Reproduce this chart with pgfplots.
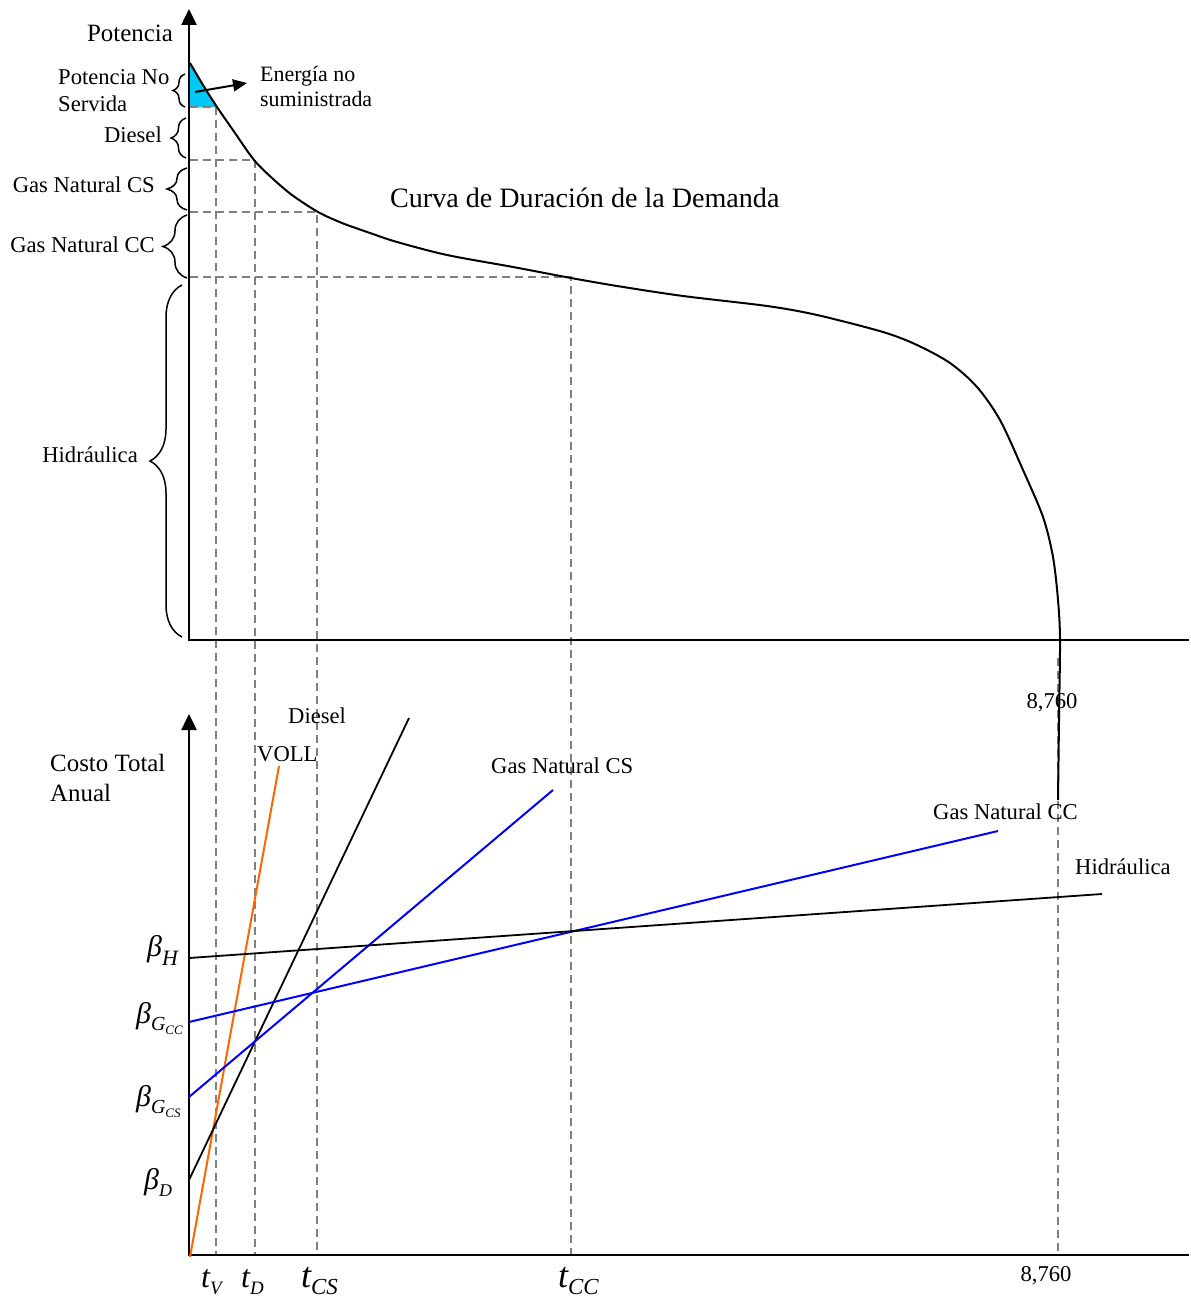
\documentclass[border=0pt]{standalone}
\usepackage{pgfplots}
\pgfplotsset{compat=1.18}
\usepackage{fontspec}
\setmainfont{Liberation Serif}
\usetikzlibrary{decorations.pathreplacing,arrows.meta}
\definecolor{voll}{RGB}{255,102,0}
\definecolor{ens}{RGB}{0,200,245}
\definecolor{guia}{RGB}{128,128,128}
\newcommand{\fs}[1]{\fontsize{#1}{#1}\selectfont}
\newcommand{\bsub}[3]{{\fs{30}\itshape β}\raisebox{-#3bp}{\fs{#2}\itshape #1}}
\newcommand{\bsubb}[2]{{\fs{30}\itshape β}\raisebox{-7bp}{\fs{20}\itshape #1\raisebox{-4bp}{\fs{13}\itshape #2}}}
\newcommand{\tsub}[3]{{\fs{#2}\itshape t}\raisebox{-7bp}{\fs{#3}\itshape #1}}
\begin{document}
\begin{tikzpicture}[
  guide/.style={guia, line width=1.5bp, dash pattern=on 8bp off 5bp},
  brc/.style={line width=1.5bp, decorate, decoration={brace, amplitude=#1}},
  lbl/.style={inner sep=0pt, font=\fs{22.7}},
]
\begin{axis}[
  width=1189bp, height=1301bp, scale only axis,
  xmin=0, xmax=1189, ymin=0, ymax=1301, y dir=reverse,
  hide axis, clip=false,
]
\addplot[draw=none] coordinates {(0,0) (1189,1301)};

% energia no suministrada
\addplot[fill=ens, draw=none] coordinates {(190,63) (203,85) (217,107) (190,107)} -- cycle;

% guias
\addplot[guide] coordinates {(190,107) (216,107) (216,1255)};
\addplot[guide] coordinates {(190,160) (255,160) (255,1255)};
\addplot[guide] coordinates {(190,212) (317,212) (317,1255)};
\addplot[guide] coordinates {(190,277) (571,277) (571,1255)};
\addplot[guide] coordinates {(1058,658) (1058,1255)};

% curva de duracion
\addplot[line width=2bp, smooth, tension=0.5] coordinates {
  (190,63) (203,85) (217,107) (235,133) (254,160) (272,178) (292,195)
  (318,212) (342,223) (370,233) (397,242) (447,255) (513,267) (571,278)
  (617,286) (683,296) (767,306) (817,315) (883,332) (917,345) (950,363)
  (977,387) (1000,420) (1023,470) (1043,517) (1053,557) (1058,600)
  (1060,640) (1059,720) (1058,800)};

% ejes
\addplot[line width=2.5bp, -{Triangle[length=16bp, width=15bp]}] coordinates {(189,641) (189,9)};
\addplot[line width=2bp] coordinates {(188,640) (1189,640)};
\addplot[line width=2.5bp, -{Triangle[length=16bp, width=15bp]}] coordinates {(189,1256) (189,714)};
\addplot[line width=2.5bp] coordinates {(188,1255) (1189,1255)};

% costos
\addplot[voll, line width=2bp] coordinates {(190,1257) (279,766)};
\addplot[black, line width=1.8bp] coordinates {(189,1180) (409,718)};
\addplot[blue, line width=2bp] coordinates {(189,1097) (553,790)};
\addplot[blue, line width=2bp] coordinates {(189,1022) (998,831)};
\addplot[black, line width=1.8bp] coordinates {(189,958) (1102,894)};

% flecha
\addplot[line width=2bp, -{Triangle[length=14bp, width=12bp]}] coordinates {(195,92) (247,83)};

% llaves
\draw[brc=12bp] (axis cs:185,107) -- (axis cs:185,74);
\draw[brc=15bp] (axis cs:186,158) -- (axis cs:186,118);
\draw[brc=20bp] (axis cs:187,210) -- (axis cs:187,168);
\draw[brc=24bp] (axis cs:187,278) -- (axis cs:187,215);
\draw[brc=32bp] (axis cs:182,637) -- (axis cs:182,285);

% textos superiores
\node[lbl, font=\fs{25}, anchor=base east] at (axis cs:173,42) {Potencia};
\node[lbl, anchor=base west] at (axis cs:58,85) {Potencia No};
\node[lbl, anchor=base west] at (axis cs:58,112) {Servida};
\node[lbl, anchor=base east] at (axis cs:162,143) {Diesel};
\node[lbl, anchor=base east] at (axis cs:155,193) {Gas Natural CS};
\node[lbl, anchor=base east] at (axis cs:155,253) {Gas Natural CC};
\node[lbl, anchor=base east] at (axis cs:138,462) {Hidráulica};
\node[lbl, font=\fs{22}, anchor=base west] at (axis cs:260,82) {Energía no};
\node[lbl, font=\fs{22}, anchor=base west] at (axis cs:260,107) {suministrada};
\node[lbl, font=\fs{28.2}, anchor=base west] at (axis cs:390,208) {Curva de Duración de la Demanda};
\node[lbl, anchor=base] at (axis cs:1052,708) {8,760};

% textos inferiores
\node[lbl, anchor=base west] at (axis cs:288,723) {Diesel};
\node[lbl, anchor=base west] at (axis cs:257,761) {VOLL};
\node[lbl, anchor=base west] at (axis cs:491,773) {Gas Natural CS};
\node[lbl, anchor=base west] at (axis cs:933,819) {Gas Natural CC};
\node[lbl, anchor=base west] at (axis cs:1075,874) {Hidráulica};
\node[lbl, font=\fs{25}, anchor=base west] at (axis cs:50,771) {Costo Total};
\node[lbl, font=\fs{25}, anchor=base west] at (axis cs:50,801) {Anual};
\node[lbl, anchor=base] at (axis cs:1046,1281) {8,760};

\node[lbl, anchor=base west] at (axis cs:147,956) {\bsub{H}{22}{9}};
\node[lbl, anchor=base west] at (axis cs:136,1023) {\bsubb{G}{CC}};
\node[lbl, anchor=base west] at (axis cs:136,1106) {\bsubb{G}{CS}};
\node[lbl, anchor=base west] at (axis cs:144,1189) {\bsub{D}{18}{7}};

\node[lbl, anchor=base west] at (axis cs:201,1287) {\tsub{V}{32}{19}};
\node[lbl, anchor=base west] at (axis cs:241,1287) {\tsub{D}{32}{19}};
\node[lbl, anchor=base west] at (axis cs:301,1287) {\tsub{CS}{36}{23}};
\node[lbl, anchor=base west] at (axis cs:558,1287) {\tsub{CC}{36}{23}};
\end{axis}
\end{tikzpicture}
\end{document}
